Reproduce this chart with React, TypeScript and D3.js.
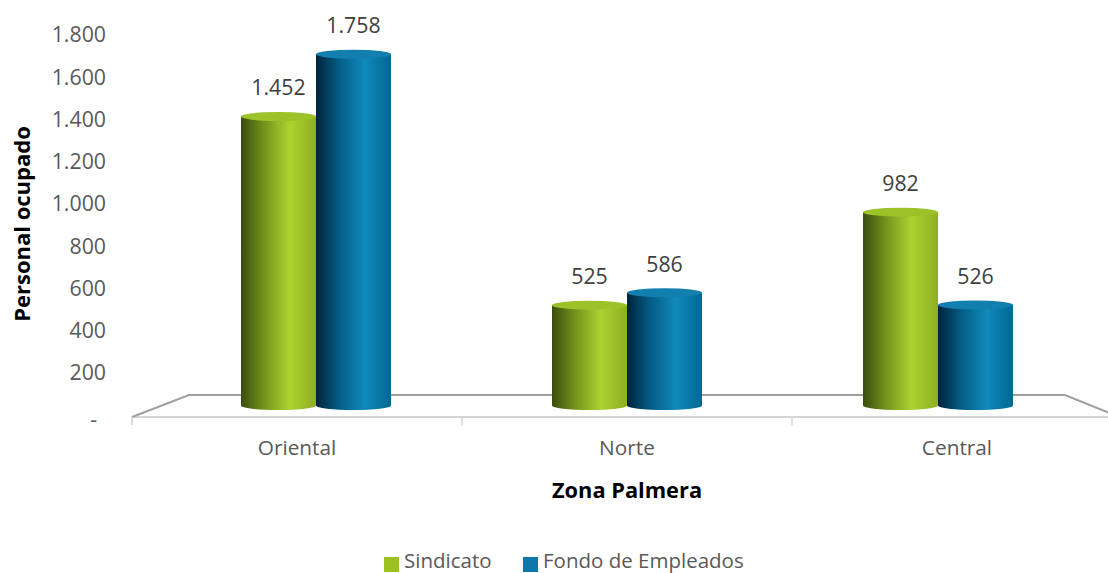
import React from "react";
import * as d3 from "d3";

const categories = ["Oriental", "Norte", "Central"];
const series = ["Sindicato", "Fondo de Empleados"];
const sindicato = [1452, 525, 982];
const fondo = [1758, 586, 526];
const yTicks = [0, 200, 400, 600, 800, 1000, 1200, 1400, 1600, 1800];

const W = 1108;
const H = 573;
const FONT = "'Open Sans', 'Noto Sans', sans-serif";

const locale = d3.formatLocale({ decimal: ",", thousands: ".", grouping: [3], currency: ["$", ""] });
const fmt = locale.format(",d");
const tickFmt = (v: number) => (v === 0 ? "-" : fmt(v));

export default function App() {
  const values = [sindicato, fondo];
  // label axis scale (left axis labels)
  const yAxis = d3.scaleLinear().domain([0, 1800]).range([415, 35]);
  // bar scale at mid depth (top ellipse centre)
  const yBar = d3.scaleLinear().domain([0, 1800]).range([412, 45.7]);
  const baseY = 405.5;
  const ry = 4.5;

  // front axis band (labels, ticks)
  const xFront = d3.scaleBand().domain(categories).range([132, 1122]);
  // mid-depth band (bars)
  const xMid = d3.scaleBand().domain(categories).range([160.5, 1093.5]);
  const xSub = d3.scaleBand().domain(series).range([-75, 75]);

  const gradIds = ["gGreen", "gBlue"];
  const topFill = ["#9cc22a", "#137fae"];
  const legendColors = ["#9dc21f", "#0e78a8"];

  return (
    <svg width={W} height={H} style={{ display: "block", position: "absolute", left: 0, top: 0 }} fontFamily={FONT}>
      <defs>
        <linearGradient id="gGreen" x1="0" x2="1" y1="0" y2="0">
          <stop offset="0" stopColor="#3b4c0e" />
          <stop offset="0.3" stopColor="#72921c" />
          <stop offset="0.65" stopColor="#aad430" />
          <stop offset="1" stopColor="#8eae22" />
        </linearGradient>
        <linearGradient id="gBlue" x1="0" x2="1" y1="0" y2="0">
          <stop offset="0" stopColor="#00233a" />
          <stop offset="0.3" stopColor="#045b84" />
          <stop offset="0.65" stopColor="#1089bb" />
          <stop offset="1" stopColor="#006892" />
        </linearGradient>
      </defs>
      <rect width={W} height={H} fill="#ffffff" />

      {/* floor */}
      <line x1={132} y1={417} x2={1122} y2={417} stroke="#d4d4d4" strokeWidth={2} />
      <polyline points="132,417 189,395 1065,395 1122,418" fill="none" stroke="#a0a0a0" strokeWidth={2} />
      {categories.map((c) => (
        <line key={"t" + c} x1={xFront(c)!} x2={xFront(c)!} y1={417} y2={425} stroke="#d4d4d4" strokeWidth={1.5} />
      ))}

      {/* y axis labels */}
      {yTicks.map((t) => (
        <text
          key={"y" + t}
          x={106}
          y={yAxis(t)}
          dx={t === 0 ? -9 : 0}
          dy={t === 0 ? "0.55em" : "0.35em"}
          textAnchor="end"
          fontSize={21.3}
          fill="#595959"
        >
          {tickFmt(t)}
        </text>
      ))}

      {/* bars */}
      {categories.map((c, ci) =>
        series.map((s, si) => {
          const cx = xMid(c)! + xMid.bandwidth() / 2 + xSub(s)! + xSub.bandwidth() / 2;
          const w = xSub.bandwidth();
          const v = values[si][ci];
          const yt = yBar(v);
          return (
            <g key={c + s}>
              <path
                d={`M${cx - w / 2},${yt} L${cx - w / 2},${baseY} A${w / 2},${ry} 0 0 0 ${cx + w / 2},${baseY} L${cx + w / 2},${yt} Z`}
                fill={`url(#${gradIds[si]})`}
              />
              <ellipse cx={cx} cy={yt} rx={w / 2} ry={ry} fill={topFill[si]} />
              <text x={cx} y={yt - ry - 24} dy="0.35em" textAnchor="middle" fontSize={21.3} fill="#404040">
                {fmt(v)}
              </text>
            </g>
          );
        })
      )}

      {/* category labels */}
      {categories.map((c) => (
        <text key={"c" + c} x={xFront(c)! + xFront.bandwidth() / 2} y={448} dy="0.35em" textAnchor="middle" fontSize={20.8} fill="#595959">
          {c}
        </text>
      ))}

      {/* axis titles */}
      <text x={627} y={490} dy="0.35em" textAnchor="middle" fontSize={21.8} fontWeight="bold" fill="#000">
        Zona Palmera
      </text>
      <text transform="translate(22,224) rotate(-90)" dy="0.35em" textAnchor="middle" fontSize={22} fontWeight="bold" fill="#000">
        Personal ocupado
      </text>

      {/* legend */}
      <rect x={384} y={557} width={15} height={15} fill={legendColors[0]} />
      <text x={404} y={561} dy="0.35em" fontSize={20.5} fill="#595959">{series[0]}</text>
      <rect x={523} y={557} width={15} height={15} fill={legendColors[1]} />
      <text x={543} y={561} dy="0.35em" fontSize={20.5} fill="#595959">{series[1]}</text>
    </svg>
  );
}
